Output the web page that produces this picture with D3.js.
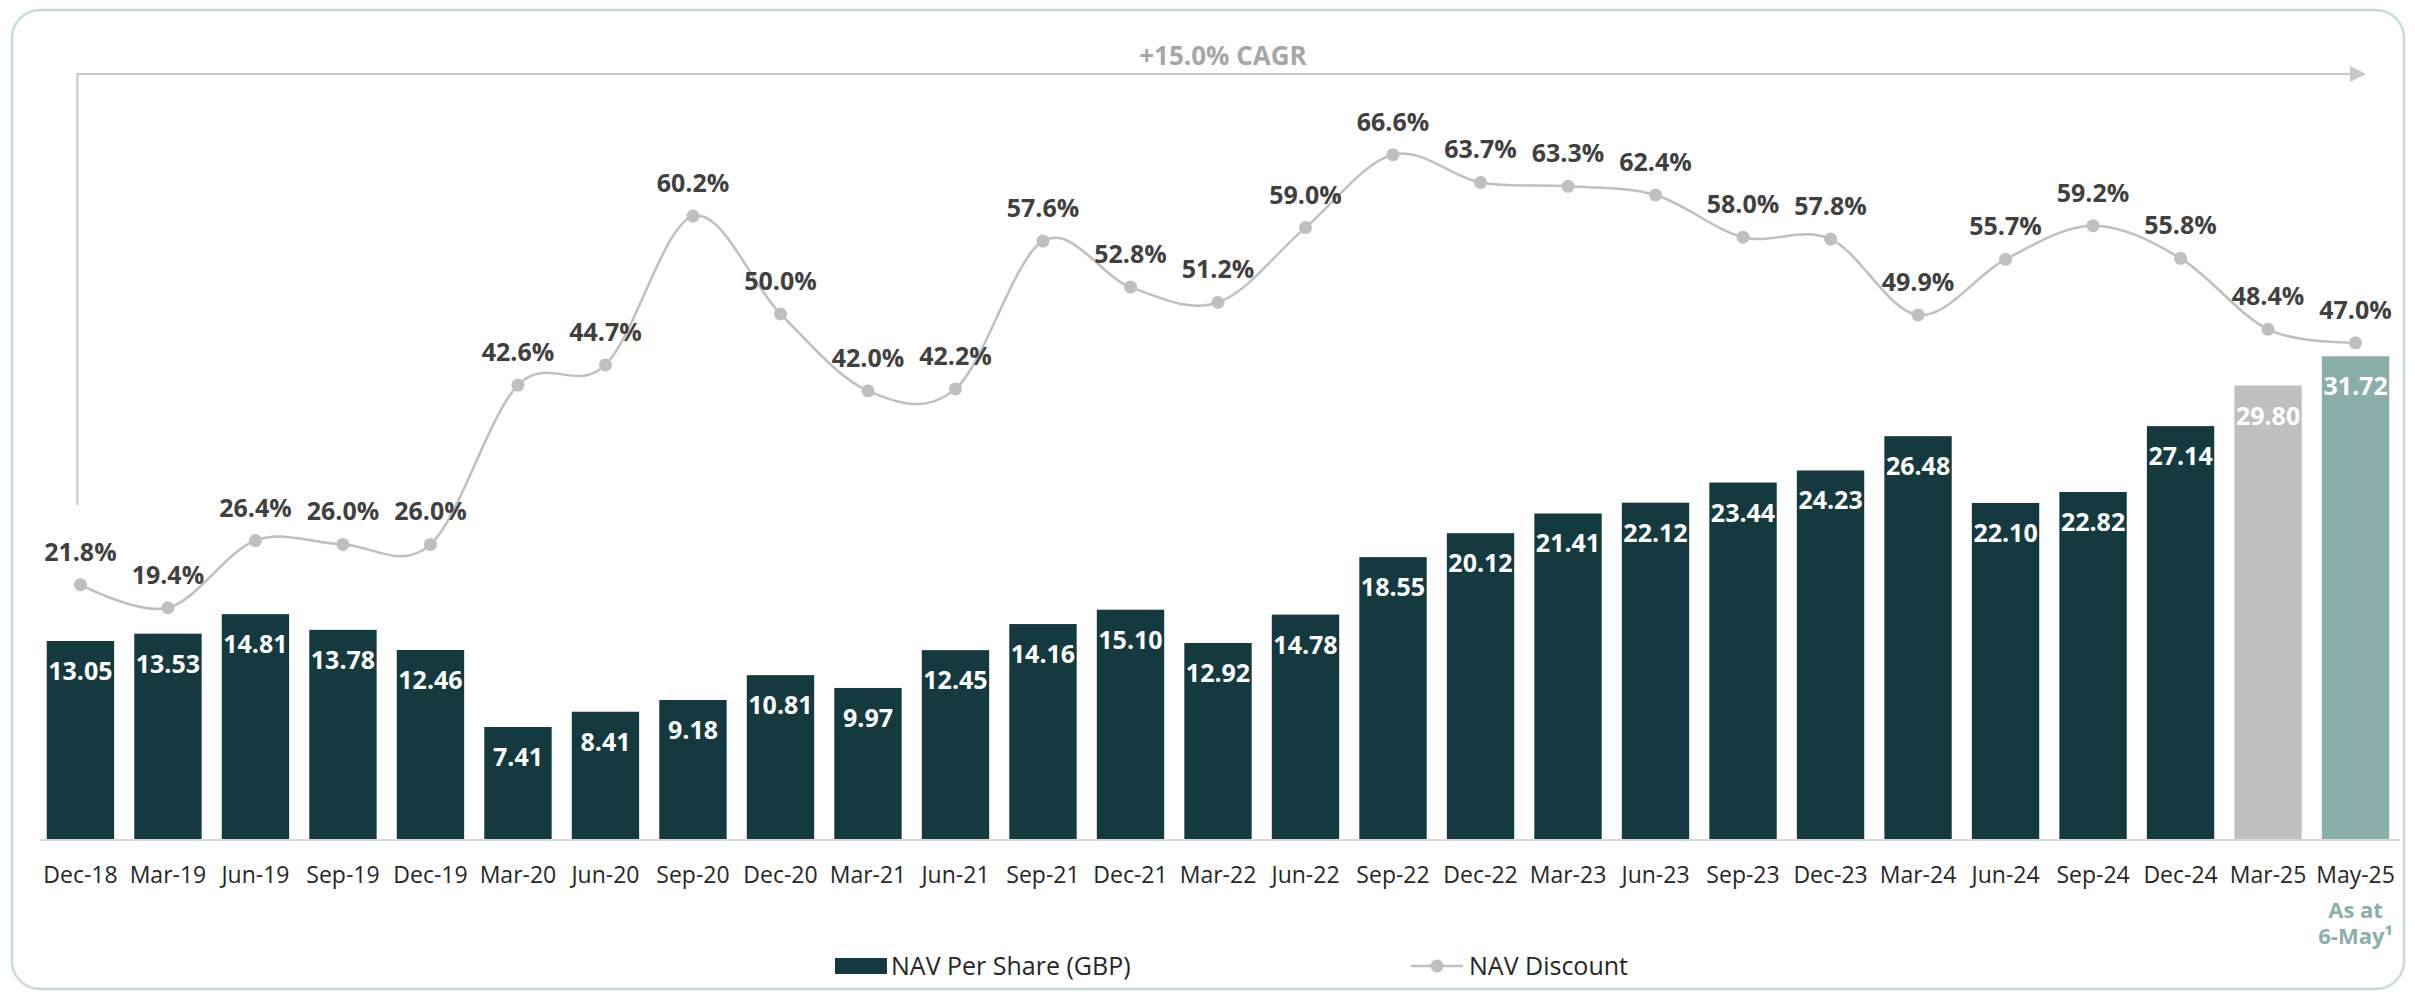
<!DOCTYPE html>
<html>
<head>
<meta charset="utf-8">
<script src="https://cdn.jsdelivr.net/npm/d3@7"></script>
<style>
  html, body { margin: 0; padding: 0; background: #fff; }
  svg { display: block; font-family: "Open Sans", "Noto Sans", sans-serif; }
</style>
</head>
<body>
<svg id="chart"></svg>
<script>
// chart data
const categories = ["Dec-18", "Mar-19", "Jun-19", "Sep-19", "Dec-19", "Mar-20", "Jun-20", "Sep-20", "Dec-20",
  "Mar-21", "Jun-21", "Sep-21", "Dec-21", "Mar-22", "Jun-22", "Sep-22", "Dec-22", "Mar-23", "Jun-23",
  "Sep-23", "Dec-23", "Mar-24", "Jun-24", "Sep-24", "Dec-24", "Mar-25", "May-25"];
const navPerShare = [13.05, 13.53, 14.81, 13.78, 12.46, 7.41, 8.41, 9.18, 10.81, 9.97, 12.45, 14.16, 15.10,
  12.92, 14.78, 18.55, 20.12, 21.41, 22.12, 23.44, 24.23, 26.48, 22.10, 22.82, 27.14, 29.80, 31.72];
const navDiscount = [21.8, 19.4, 26.4, 26.0, 26.0, 42.6, 44.7, 60.2, 50.0, 42.0, 42.2, 57.6, 52.8, 51.2,
  59.0, 66.6, 63.7, 63.3, 62.4, 58.0, 57.8, 49.9, 55.7, 59.2, 55.8, 48.4, 47.0];
const seriesNames = ["NAV Per Share (GBP)", "NAV Discount"];
const cagrLabel = "+15.0% CAGR";
const latestNote = ["As at", "6-May¹"];

const width = 2415;
const height = 996;

const dark = "#143a3f";
const grey = "#bfbfbf";
const teal = "#8aaea9";

const svg = d3.select("#chart")
  .attr("width", width)
  .attr("height", height)
  .attr("viewBox", `0 0 ${width} ${height}`);

// outer rounded frame
svg.append("rect")
  .attr("x", 12).attr("y", 10)
  .attr("width", 2392).attr("height", 979)
  .attr("rx", 28).attr("ry", 28)
  .attr("fill", "none")
  .attr("stroke", "#c6dad6")
  .attr("stroke-width", 2.5);

const x = d3.scaleBand()
  .domain(categories)
  .range([38, 2398])
  .paddingInner(0.23)
  .paddingOuter(0.1);

const yBar = d3.scaleLinear()
  .domain([0, 40])
  .range([840, 230]);

const yLine = d3.scaleLinear()
  .domain([0, 70])
  .range([794, 122]);

const rows = categories.map((c, i) => ({ cat: c, nav: navPerShare[i], disc: navDiscount[i] }));

const barFill = d => d.cat === "May-25" ? teal : (d.cat === "Mar-25" ? grey : dark);

// CAGR arrow
const arrowY = 74;
svg.append("path")
  .attr("d", `M${x("Dec-18") + x.bandwidth() / 2 - 3},505 V${arrowY} H2352`)
  .attr("fill", "none")
  .attr("stroke", "#c8c8c8")
  .attr("stroke-width", 2);
svg.append("path")
  .attr("d", `M2350,${arrowY - 8} L2366,${arrowY} L2350,${arrowY + 8} Z`)
  .attr("fill", "#c8c8c8");
svg.append("text")
  .attr("x", 1223).attr("y", 65)
  .attr("text-anchor", "middle")
  .attr("font-size", 26)
  .attr("font-weight", 700)
  .attr("fill", "#a6a6a6")
  .text(cagrLabel);

// bars
svg.append("g")
  .selectAll("rect")
  .data(rows)
  .join("rect")
  .attr("x", d => x(d.cat))
  .attr("y", d => yBar(d.nav))
  .attr("width", x.bandwidth())
  .attr("height", d => yBar(0) - yBar(d.nav))
  .attr("fill", barFill);

svg.append("g")
  .selectAll("text")
  .data(rows)
  .join("text")
  .attr("x", d => x(d.cat) + x.bandwidth() / 2)
  .attr("y", d => yBar(d.nav) + 39)
  .attr("text-anchor", "middle")
  .attr("font-size", 25)
  .attr("font-weight", 700)
  .attr("fill", "#fff")
  .text(d => d.nav.toFixed(2));

// baseline + category labels
const xAxis = svg.append("g")
  .attr("transform", `translate(0,${yBar(0)})`)
  .call(d3.axisBottom(x).tickSize(0).tickPadding(27).tickSizeOuter(0));
xAxis.select(".domain")
  .attr("d", "M40,0H2400")
  .attr("stroke", "#d9d9d9")
  .attr("stroke-width", 2);
xAxis.selectAll("text")
  .attr("font-family", "Open Sans, sans-serif")
  .attr("font-size", 23)
  .attr("fill", "#262626");

const lastX = x("May-25") + x.bandwidth() / 2;
svg.append("g")
  .selectAll("text")
  .data(latestNote)
  .join("text")
  .attr("x", lastX)
  .attr("y", (d, i) => 918 + i * 26)
  .attr("text-anchor", "middle")
  .attr("font-size", 22)
  .attr("font-weight", 700)
  .attr("fill", teal)
  .text(d => d);

// discount line
const line = d3.line()
  .x(d => x(d.cat) + x.bandwidth() / 2)
  .y(d => yLine(d.disc))
  .curve(d3.curveCatmullRom.alpha(0));

svg.append("path")
  .datum(rows)
  .attr("d", line)
  .attr("fill", "none")
  .attr("stroke", grey)
  .attr("stroke-width", 2.5);

svg.append("g")
  .selectAll("circle")
  .data(rows)
  .join("circle")
  .attr("cx", d => x(d.cat) + x.bandwidth() / 2)
  .attr("cy", d => yLine(d.disc))
  .attr("r", 6.5)
  .attr("fill", grey);

svg.append("g")
  .selectAll("text")
  .data(rows)
  .join("text")
  .attr("x", d => x(d.cat) + x.bandwidth() / 2)
  .attr("y", d => yLine(d.disc) - 24)
  .attr("text-anchor", "middle")
  .attr("font-size", 25)
  .attr("font-weight", 700)
  .attr("fill", "#404040")
  .text(d => d.disc.toFixed(1) + "%");

// legend
const legend = svg.append("g").attr("transform", "translate(0,966)");
legend.append("rect")
  .attr("x", 835).attr("y", -8)
  .attr("width", 52).attr("height", 16)
  .attr("fill", dark);
legend.append("text")
  .attr("x", 891).attr("y", 9)
  .attr("font-size", 25)
  .attr("fill", "#262626")
  .text(seriesNames[0]);
legend.append("line")
  .attr("x1", 1411).attr("x2", 1463)
  .attr("y1", 0).attr("y2", 0)
  .attr("stroke", grey)
  .attr("stroke-width", 2.5);
legend.append("circle")
  .attr("cx", 1437).attr("cy", 0)
  .attr("r", 6.5)
  .attr("fill", grey);
legend.append("text")
  .attr("x", 1469).attr("y", 9)
  .attr("font-size", 25)
  .attr("fill", "#262626")
  .text(seriesNames[1]);
</script>
</body>
</html>
